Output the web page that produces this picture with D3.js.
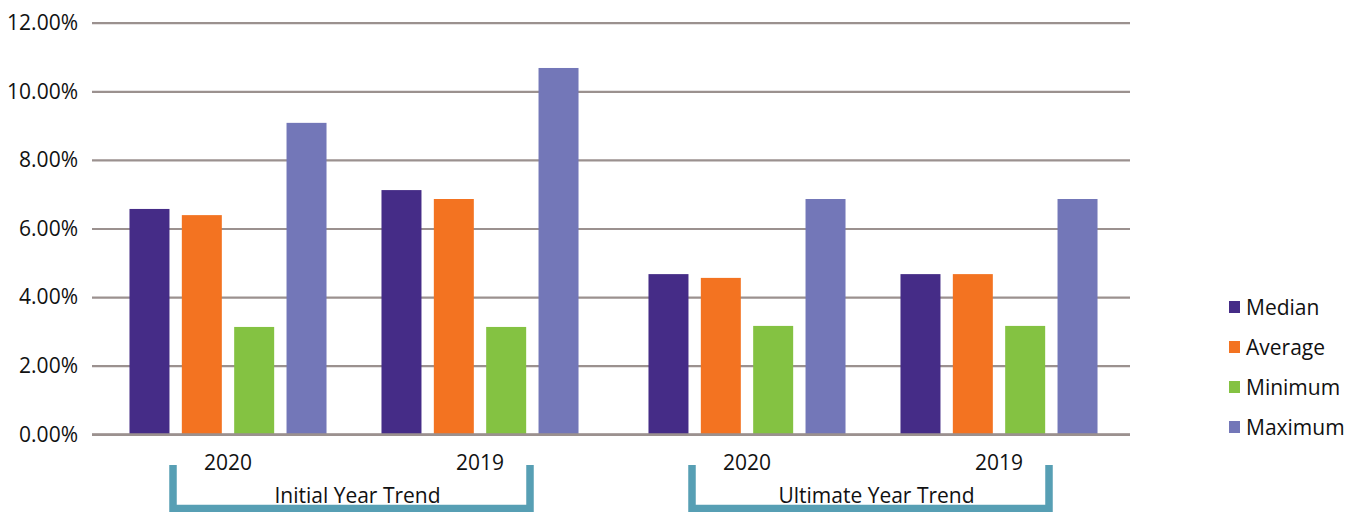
<!DOCTYPE html>
<html>
<head>
<meta charset="utf-8">
<script src="https://cdn.jsdelivr.net/npm/d3@7"></script>
<style>
  html, body { margin: 0; padding: 0; background: #fff; }
  svg { display: block; }
  text { font-family: "Open Sans", "Noto Sans", sans-serif; fill: #111; }
</style>
</head>
<body>
<svg id="chart" width="1358" height="512"></svg>
<script>
// ---- data ----
const trends = ["Initial Year Trend", "Ultimate Year Trend"];
const years = ["2020", "2019"];
const seriesNames = ["Median", "Average", "Minimum", "Maximum"];
const seriesColors = ["#452c87", "#f37321", "#84c242", "#7377b8"];
// values (fraction) per trend/year, in seriesNames order
const initial2020 = [0.0657, 0.0639, 0.0313, 0.0908];
const initial2019 = [0.0712, 0.0686, 0.0313, 0.1068];
const ultimate2020 = [0.0467, 0.0456, 0.0316, 0.0686];
const ultimate2019 = [0.0467, 0.0467, 0.0316, 0.0686];
const yTicks = [0, 0.02, 0.04, 0.06, 0.08, 0.10, 0.12];

const table = [
  { trend: trends[0], year: years[0], values: initial2020 },
  { trend: trends[0], year: years[1], values: initial2019 },
  { trend: trends[1], year: years[0], values: ultimate2020 },
  { trend: trends[1], year: years[1], values: ultimate2019 }
];

// ---- layout ----
const svg = d3.select("#chart");
const plotLeft = 92, plotRight = 1130, plotTop = 22.7, plotBottom = 434.3;

const y = d3.scaleLinear().domain([0, 0.12]).range([plotBottom, plotTop]);
const xTrend = d3.scaleBand().domain(trends).range([plotLeft, plotRight]).padding(0);
const xYear = d3.scaleBand().domain(years).range([10, 514]).padding(0);
const xSeries = d3.scaleBand().domain(seriesNames).range([0, xYear.bandwidth()])
  .paddingInner(0.236).paddingOuter(0.525);
const color = d3.scaleOrdinal().domain(seriesNames).range(seriesColors);

// gridlines + y labels via axis
const yAxis = d3.axisLeft(y).tickValues(yTicks).tickFormat(d3.format(".2%"))
  .tickSize(-(plotRight - plotLeft)).tickPadding(14);
const gy = svg.append("g").attr("transform", `translate(${plotLeft},0)`).call(yAxis);
gy.select(".domain").remove();
gy.selectAll(".tick line").attr("stroke", "#9b918f").attr("stroke-width", 2.2);
gy.selectAll(".tick text").attr("font-size", 21).attr("fill", "#111")
  .style("font-family", '"Open Sans", sans-serif');

// bars
const groups = svg.append("g").selectAll("g.grp").data(table).join("g")
  .attr("class", "grp")
  .attr("transform", d => `translate(${xTrend(d.trend) + xYear(d.year)},0)`);
groups.selectAll("rect").data(d => d.values.map((v, i) => ({ name: seriesNames[i], v })))
  .join("rect")
  .attr("x", d => xSeries(d.name))
  .attr("width", xSeries.bandwidth())
  .attr("y", d => y(d.v))
  .attr("height", d => y(0) - y(d.v))
  .attr("fill", d => color(d.name));

// redraw baseline on top
svg.append("line").attr("x1", plotLeft).attr("x2", plotRight)
  .attr("y1", y(0)).attr("y2", y(0)).attr("stroke", "#9b918f").attr("stroke-width", 2.2);

// year labels
groups.append("text")
  .attr("x", xYear.bandwidth() / 2)
  .attr("y", 470)
  .attr("text-anchor", "middle")
  .attr("font-size", 21)
  .text(d => d.year);

// brackets
trends.forEach(t => {
  const left = xTrend(t) + xYear(years[0]) + xYear.bandwidth() / 2 - 55;
  const right = xTrend(t) + xYear(years[1]) + xYear.bandwidth() / 2 + 50;
  svg.append("path")
    .attr("d", `M${left},465 V508.5 H${right} V465`)
    .attr("fill", "none")
    .attr("stroke", "#579fb4")
    .attr("stroke-width", 7.5)
    .attr("stroke-linejoin", "miter");
  svg.append("text")
    .attr("x", (left + right) / 2 + 6)
    .attr("y", 503)
    .attr("text-anchor", "middle")
    .attr("font-size", 21)
    .text(t);
});

// legend
const legend = svg.append("g").attr("transform", "translate(1229,0)");
const lg = legend.selectAll("g").data(seriesNames).join("g")
  .attr("transform", (d, i) => `translate(0,${307 + i * 40})`);
lg.append("rect").attr("x", 0).attr("y", -6).attr("width", 11).attr("height", 12)
  .attr("fill", d => color(d));
lg.append("text").attr("x", 17).attr("y", 7.5).attr("font-size", 21).text(d => d);
</script>
</body>
</html>
